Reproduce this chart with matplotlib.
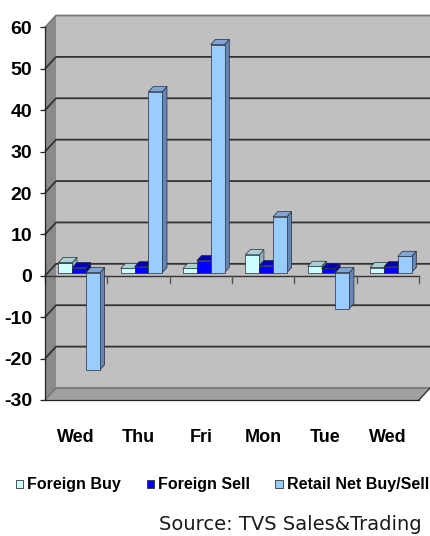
import matplotlib
matplotlib.use('Agg')
import matplotlib.pyplot as plt
from matplotlib.patches import Polygon, Patch

days = ['Wed', 'Thu', 'Fri', 'Mon', 'Tue', 'Wed']
foreign_buy = [2.4, 1.0, 1.0, 4.3, 1.5, 1.2]
foreign_sell = [1.2, 1.4, 2.9, 1.7, 1.0, 1.4]
retail_net = [-23.5, 43.7, 55.1, 13.5, -8.7, 3.9]
series_names = ['Foreign Buy', 'Foreign Sell', 'Retail Net Buy/Sell']
y_ticks = list(range(-30, 61, 10))

# front / top / side shades for each series
shades = [
    ('#CCFFFF', '#A8D2D2', '#8AB4B4'),
    ('#0000FF', '#0000B4', '#000090'),
    ('#99CCFF', '#7EA6D4', '#6486B4'),
]

plt.rcParams['font.family'] = 'Liberation Sans'
plt.rcParams['font.weight'] = 'bold'
plt.rcParams['axes.unicode_minus'] = False

W, H = 431, 536
fig = plt.figure(figsize=(W / 100, H / 100), dpi=100)
ax = fig.add_axes([45 / W, 136 / H, 374 / W, 372.5 / H])
ax.set_xlim(-0.5, 5.5)
ax.set_ylim(-30, 60)
ax.patch.set_visible(False)

# pixel sizes in data units, for the fake depth
ux = 6 / 374
uy = 90 / 372.5


def pt(x, v, d):
    # d = 0 is the front plane, d = 1 is the back wall
    return (x + 11 * d * ux, v + 12 * d * uy)


x0, x1 = -0.5, 5.5
lo, hi = -30, 60

side_wall = [pt(x0, lo, 0), pt(x0, hi, 0), pt(x0, hi, 1), pt(x0, lo, 1)]
back_wall = [pt(x0, lo, 1), pt(x1, lo, 1), pt(x1, hi, 1), pt(x0, hi, 1)]
floor = [pt(x0, lo, 0), pt(x1, lo, 0), pt(x1, lo, 1), pt(x0, lo, 1)]
ax.add_patch(Polygon(side_wall, closed=True, fc='#8A8A8A', ec='none', zorder=0.2, clip_on=False))
ax.add_patch(Polygon(back_wall, closed=True, fc='#C0C0C0', ec='none', zorder=0.2, clip_on=False))
ax.add_patch(Polygon(floor, closed=True, fc='#A0A0A0', ec='none', zorder=0.2, clip_on=False))

# gridlines run across the side wall and the back wall
for v in y_ticks:
    xs, ys = zip(pt(x0, v, 0), pt(x0, v, 1), pt(x1, v, 1))
    col = '#777777' if v in (lo, hi) else '#333333'
    ax.plot(xs, ys, color=col, lw=1.3, zorder=0.4, clip_on=False, solid_capstyle='butt')
xs, ys = zip(pt(x1, lo, 0), pt(x1, lo, 1))
ax.plot(xs, ys, color='#333333', lw=1.0, zorder=0.4, clip_on=False)

# category axis at zero on the front plane
ax.plot([x0, x1], [0, 0], color='#333333', lw=1.0, zorder=0.6, clip_on=False)
for k in range(7):
    ax.plot([x0 + k, x0 + k], [0, -7 * uy], color='#555555', lw=1.0, zorder=0.6, clip_on=False)

# 3d-looking clustered columns
w = 1 / 4.5
df, db = 0.27, 0.70
series = [foreign_buy, foreign_sell, retail_net]
for i in range(len(days)):
    for j, vals in enumerate(series):
        v = vals[i]
        xa = i - 1.5 * w + j * w
        xb = xa + w
        top, bot = max(v, 0), min(v, 0)
        front_c, top_c, side_c = shades[j]
        side = [pt(xb, bot, df), pt(xb, bot, db), pt(xb, top, db), pt(xb, top, df)]
        lid = [pt(xa, top, df), pt(xb, top, df), pt(xb, top, db), pt(xa, top, db)]
        front = [pt(xa, bot, df), pt(xb, bot, df), pt(xb, top, df), pt(xa, top, df)]
        for poly, c in ((side, side_c), (lid, top_c), (front, front_c)):
            ax.add_patch(Polygon(poly, closed=True, fc=c, ec='#2A2A3A', lw=0.5,
                                 zorder=1, clip_on=False))

for s in ('top', 'right'):
    ax.spines[s].set_visible(False)
for s in ('left', 'bottom'):
    ax.spines[s].set_color('#222222')
    ax.spines[s].set_linewidth(0.9)

ax.set_yticks(y_ticks)
ax.tick_params(axis='y', length=3.6, width=0.9, color='#222222', pad=5.5, labelsize=14)
ax.set_xticks(range(len(days)))
ax.set_xticklabels(days)
ax.tick_params(axis='x', length=0, pad=21, labelsize=13)

handles = [Patch(facecolor=c[0], edgecolor='#333333', lw=0.6) for c in shades]
fig.legend(handles, series_names, ncol=3, loc='center',
           bbox_to_anchor=(222.5 / W, (H - 485) / H), frameon=False,
           handlelength=0.45, handleheight=0.45, handletextpad=0.25,
           columnspacing=1.6, borderpad=0, borderaxespad=0,
           prop={'family': 'Liberation Sans', 'weight': 'bold', 'size': 11.5})

fig.text(422 / W, (H - 524) / H, 'Source: TVS Sales&Trading', ha='right', va='center',
         family='DejaVu Sans', fontweight='normal', fontsize=14, color='#1A1A1A')

fig.savefig('out.png', dpi=100, facecolor='white')
